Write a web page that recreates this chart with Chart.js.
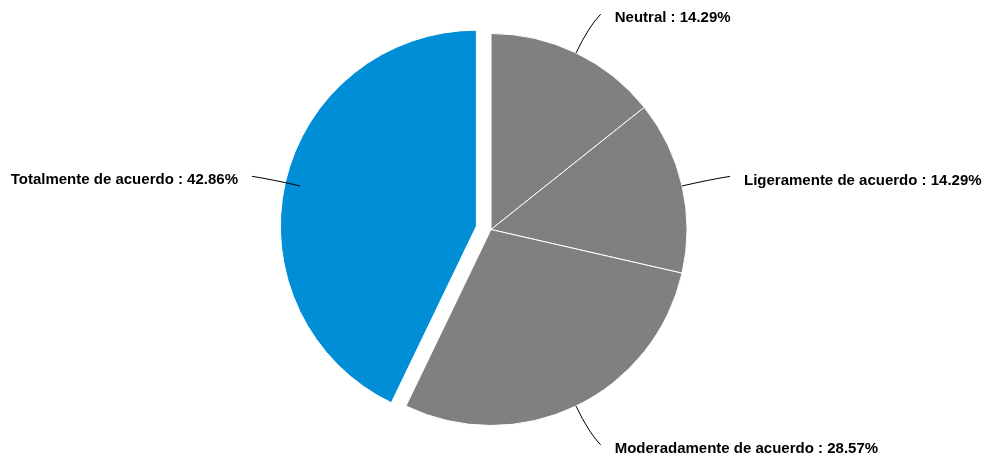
<!DOCTYPE html>
<html>
<head>
<meta charset="utf-8">
<script src="https://cdn.jsdelivr.net/npm/chart.js@4"></script>
<style>
  html, body { margin: 0; padding: 0; background: #fff; }
  #wrap { width: 982px; height: 455px; }
</style>
</head>
<body>
<div id="wrap"><canvas id="pie" width="982" height="455"></canvas></div>
<script>
// 데이터
const labels = ["Neutral", "Ligeramente de acuerdo", "Moderadamente de acuerdo", "Totalmente de acuerdo"];
const values = [14.29, 14.29, 28.57, 42.86];
const colors = ["#808080", "#808080", "#808080", "#008ED6"];
const explode = [0, 0, 0, 15]; // 조각 분리 거리(px)

// 조각 분리: 반지름은 그대로 두고 중심만 이동
const explodePlugin = {
  id: "explode",
  afterDatasetUpdate(chart, args) {
    const meta = chart.getDatasetMeta(args.index);
    meta.data.forEach((arc, i) => {
      const d = explode[i] || 0;
      if (!d) return;
      const mid = (arc.startAngle + arc.endAngle) / 2;
      arc.x += Math.cos(mid) * d;
      arc.y += Math.sin(mid) * d;
    });
  },
};

// 라벨 + 연결선 그리기
const labelPlugin = {
  id: "pieLabels",
  afterDraw(chart) {
    const ctx = chart.ctx;
    const meta = chart.getDatasetMeta(0);
    // 원래 중심 기준 (분리 제외)
    const cx = chart.chartArea.left + chart.chartArea.width / 2;
    const cy = chart.chartArea.top + chart.chartArea.height / 2;
    ctx.save();
    ctx.font = "bold 15px 'Liberation Sans', Arial, sans-serif";
    ctx.fillStyle = "#000";
    ctx.strokeStyle = "#000";
    ctx.lineWidth = 1;
    meta.data.forEach((arc, i) => {
      const mid = (arc.startAngle + arc.endAngle) / 2;
      const dx = Math.cos(mid), dy = Math.sin(mid);
      const side = dx >= 0 ? 1 : -1;
      const r = arc.outerRadius;
      const sx = cx + dx * r, sy = cy + dy * r;
      const qx = cx + dx * (r + 30), qy = cy + dy * (r + 30);
      const ex = cx + dx * (r + 43) + side * 6, ey = cy + dy * (r + 43);
      ctx.beginPath();
      ctx.moveTo(sx, sy);
      ctx.quadraticCurveTo(qx, qy, ex, ey);
      ctx.stroke();
      ctx.textBaseline = "middle";
      ctx.textAlign = side > 0 ? "left" : "right";
      ctx.fillText(`${labels[i]} : ${values[i].toFixed(2)}%`, ex + side * 14, ey + 4);
    });
    ctx.restore();
  },
};

new Chart(document.getElementById("pie").getContext("2d"), {
  type: "pie",
  data: {
    labels: labels,
    datasets: [
      {
        data: values,
        backgroundColor: colors,
        borderColor: "#fff",
        borderWidth: 1,
        hoverOffset: 0,
      },
    ],
  },
  options: {
    responsive: false,
    animation: false,
    events: [],
    radius: 196,
    layout: { padding: { top: 4, bottom: 0 } },
    plugins: {
      legend: { display: false },
      tooltip: { enabled: false },
    },
  },
  plugins: [explodePlugin, labelPlugin],
});
</script>
</body>
</html>
